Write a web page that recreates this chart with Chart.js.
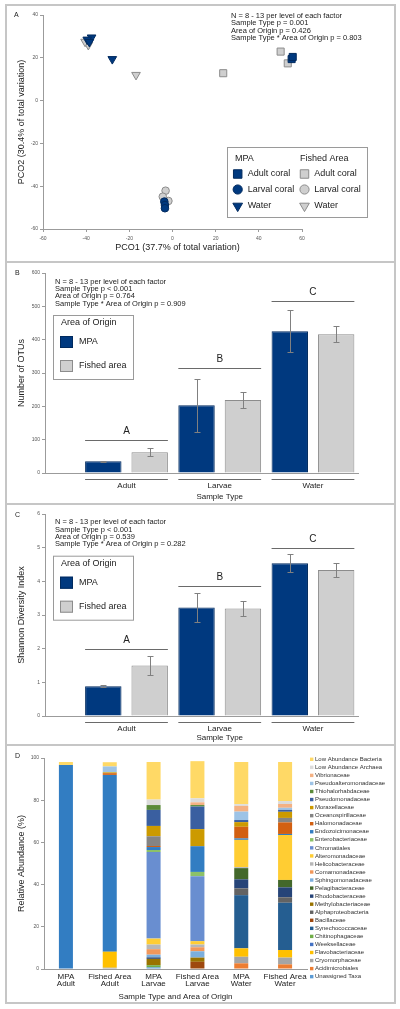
<!DOCTYPE html>
<html>
<head>
<meta charset="utf-8">
<title>Coral microbiome figure</title>
<script src="https://cdn.jsdelivr.net/npm/chart.js@4.4.1/dist/chart.umd.min.js"></script>
<style>
  html, body { margin: 0; padding: 0; background: #fff; }
  body { position: relative; width: 400px; height: 1009px; overflow: hidden; }
  canvas { position: absolute; }
  .frame { position: absolute; left: 5px; width: 391px; border: 2px solid #c6c6c6; box-sizing: border-box; }
</style>
</head>
<body>
<canvas id="pco" width="391" height="258" style="left:5px;top:4px"></canvas>
<canvas id="otus" width="391" height="243" style="left:5px;top:261px"></canvas>
<canvas id="shannon" width="391" height="242" style="left:5px;top:503px"></canvas>
<canvas id="abund" width="391" height="260" style="left:5px;top:744px"></canvas>
<div class="frame" style="top:4px;height:259px"></div>
<div class="frame" style="top:261px;height:244px"></div>
<div class="frame" style="top:503px;height:243px"></div>
<div class="frame" style="top:744px;height:260px"></div>
<script>
const FONT = "'Liberation Sans', Arial, Helvetica, sans-serif";
Chart.defaults.font.family = FONT;
Chart.defaults.color = "#333";
Chart.defaults.animation = false;
Chart.defaults.responsive = false;
Chart.defaults.plugins.legend.display = false;
Chart.defaults.plugins.tooltip.enabled = false;

const NAVY = "#00397f";
const NAVY_EDGE = "#002a5e";
const GREY = "#cfcfcf";
const GREY_EDGE = "#8c8c8c";
const AXIS = "#9b9b9b";

// ---- A: PCO ordination
const mpaAdult = [{ x: 55.2, y: 19.4 }, { x: 55.7, y: 20.4 }];
const mpaLarval = [{ x: -3.8, y: -47.2 }, { x: -3.5, y: -48.8 }, { x: -3.5, y: -50.3 }];
const mpaWater = [{ x: -37.5, y: 29.5 }, { x: -39.5, y: 28.5 }, { x: -38.5, y: 27.4 }, { x: -27.9, y: 19.4 }];
const fishedAdult = [{ x: 50.1, y: 22.9 }, { x: 53.4, y: 17.4 }, { x: 23.5, y: 12.8 }];
const fishedLarval = [{ x: -3.2, y: -42.1 }, { x: -4.5, y: -44.9 }, { x: -1.9, y: -46.9 }];
const fishedWater = [{ x: -39, y: 26 }, { x: -40.5, y: 27.5 }, { x: -16.9, y: 12 }];
const pcoStats = ["N = 8 - 13 per level of each factor", "Sample Type p = 0.001", "Area of Origin p = 0.426", "Sample Type * Area of Origin p = 0.803"];

// ---- B / C: OTUs and Shannon
const sampleTypes = ["Adult", "Larvae", "Water"];
const otuMPA = [35, 203, 425];
const otuMPAErr = [2, 80, 63];
const otuFished = [62, 219, 416];
const otuFishedErr = [12, 25, 24];
const otuLetters = ["A", "B", "C"];
const otuLetterLevel = [100, 316, 517];
const otuStats = ["N = 8 - 13 per level of each factor", "Sample Type p < 0.001", "Area of Origin p = 0.764", "Sample Type * Area of Origin p = 0.909"];

const shMPA = [0.88, 3.22, 4.54];
const shMPAErr = [0.03, 0.42, 0.26];
const shFished = [1.5, 3.19, 4.34];
const shFishedErr = [0.29, 0.23, 0.21];
const shLetters = ["A", "B", "C"];
const shLetterLevel = [2.0, 3.87, 5.0];
const shStats = ["N = 8 - 13 per level of each factor", "Sample Type p < 0.001", "Area of Origin p = 0.539", "Sample Type * Area of Origin p = 0.282"];

// ---- D: relative abundance, bottom of stack first
const abundGroups = [["MPA", "Adult"], ["Fished Area", "Adult"], ["MPA", "Larvae"], ["Fished Area", "Larvae"], ["MPA", "Water"], ["Fished Area", "Water"]];
const taxa = ["Unassigned Taxa", "Acidimicrobiales", "Cryomorphaceae", "Flavobacteriaceae", "Weeksellaceae", "Chitinophagaceae",
  "Synechococcaceae", "Bacillaceae", "Alphaproteobacteria", "Methylobacteriaceae", "Rhodobacteraceae", "Pelagibacteraceae",
  "Sphingomonadaceae", "Comamonadaceae", "Helicobacteraceae", "Alteromonadaceae", "Chromatiales", "Enterobacteriaceae",
  "Endozoicimonaceae", "Halomonadaceae", "Oceanospirillaceae", "Moraxellaceae", "Pseudomonadaceae", "Thiohalorhabdaceae",
  "Pseudoalteromonadaceae", "Vibrionaceae", "Low Abundance Archaea", "Low Abundance Bacteria"];
const abundance = [
  [0, 0, 0.8, 0, 0, 0],
  [0, 0, 0, 0, 2.7, 2.2],
  [0, 0.6, 0, 0, 3.1, 3.2],
  [0, 7.6, 0, 0, 4.0, 3.6],
  [0, 0, 0, 0, 0, 0],
  [0, 0, 1.0, 0, 0, 0],
  [0, 0, 0, 0, 25.2, 22.4],
  [0, 0, 0, 3.4, 0, 0],
  [0, 0, 0, 0, 3.2, 2.6],
  [0, 0, 3.0, 2.0, 0, 0],
  [0, 0, 0.7, 0, 4.3, 4.7],
  [0, 0, 0, 0, 5.3, 3.5],
  [0, 0, 1.3, 3.0, 0, 0],
  [0, 0, 2.6, 1.9, 0, 0],
  [0, 0, 2.2, 1.3, 0.5, 0],
  [0, 0, 2.8, 1.6, 12.9, 21.3],
  [0, 0, 41.0, 30.8, 0, 0],
  [0, 0, 1.0, 2.0, 0, 0],
  [96.7, 83.8, 1.4, 12.2, 0.7, 0.5],
  [0, 0.8, 0.5, 0, 5.5, 5.5],
  [0, 0, 4.6, 0, 0, 2.1],
  [0, 0.4, 4.9, 8.1, 2.2, 2.9],
  [0, 0, 7.6, 10.7, 1.0, 0.9],
  [0, 0, 2.3, 0.7, 0, 0],
  [0, 2.8, 0, 0, 4.0, 1.0],
  [0, 0, 0, 1.3, 2.7, 1.8],
  [0, 0, 2.6, 1.9, 0.8, 1.4],
  [1.4, 2.0, 17.8, 17.6, 20.0, 18.5]
];
const taxaColors = ["#5B9BD5", "#ED7D31", "#A5A5A5", "#FFC000", "#4472C4", "#70AD47",
  "#255E91", "#9E480E", "#636363", "#997300", "#264478", "#43682B",
  "#7CAFDD", "#F1975A", "#B7B7B7", "#FFCD33", "#698ED0", "#8CC168",
  "#327DC2", "#D26012", "#848484", "#CC9A00", "#3A5FA0", "#5A8A39",
  "#9DC3E6", "#F4B183", "#DBDBDB", "#FFD966"];

// plain text labels placed on the canvas
const notes = {
  id: "notes",
  afterDraw(chart, args, o) {
    if (!o.items) return;
    const ctx = chart.ctx;
    ctx.save();
    o.items.forEach((it) => {
      ctx.font = `${it.size}px ${FONT}`;
      ctx.fillStyle = it.color || "#222";
      ctx.textAlign = it.align || "left";
      ctx.textBaseline = "middle";
      ctx.fillText(it.text, it.x, it.y);
    });
    ctx.restore();
  },
};

function marker(ctx, style, x, y, r, fill, edge) {
  ctx.beginPath();
  if (style === "rect") {
    const h = r * Math.SQRT1_2;
    ctx.rect(x - h, y - h, 2 * h, 2 * h);
  } else if (style === "circle") {
    ctx.arc(x, y, r, 0, Math.PI * 2);
  } else {
    ctx.moveTo(x - r * 0.866, y - r / 2);
    ctx.lineTo(x + r * 0.866, y - r / 2);
    ctx.lineTo(x, y + r);
    ctx.closePath();
  }
  ctx.fillStyle = fill;
  ctx.fill();
  ctx.lineWidth = 1;
  ctx.strokeStyle = edge;
  ctx.stroke();
}

// two-column legend of panel A
const pcoLegend = {
  id: "pcoLegend",
  afterDraw(chart, args, o) {
    if (!o.box) return;
    const ctx = chart.ctx;
    const b = o.box;
    ctx.save();
    ctx.strokeStyle = "#9a9a9a";
    ctx.lineWidth = 1;
    ctx.strokeRect(b.x + 0.5, b.y + 0.5, b.w, b.h);
    ctx.font = `9px ${FONT}`;
    ctx.fillStyle = "#222";
    ctx.textBaseline = "middle";
    o.headers.forEach((h, c) => ctx.fillText(h, o.headerX[c], o.headerY));
    chart.data.datasets.forEach((ds, i) => {
      const c = Math.floor(i / 3), r = i % 3;
      const size = { rect: 6, circle: 4.6, triangle: 5.6 }[ds.pointStyle];
      marker(ctx, ds.pointStyle, o.markX[c], o.rowY[r], size, ds.backgroundColor, ds.borderColor);
      ctx.fillStyle = "#222";
      ctx.fillText(ds.label, o.textX[c], o.rowY[r]);
    });
    ctx.restore();
  },
};

// boxed legend of panels B and C
const boxLegend = {
  id: "boxLegend",
  afterDraw(chart, args, o) {
    if (!o.box) return;
    const ctx = chart.ctx;
    const b = o.box;
    ctx.save();
    ctx.strokeStyle = "#9a9a9a";
    ctx.lineWidth = 1;
    ctx.strokeRect(b.x + 0.5, b.y + 0.5, b.w, b.h);
    ctx.font = `9px ${FONT}`;
    ctx.textBaseline = "middle";
    ctx.fillStyle = "#222";
    ctx.fillText(o.title, b.x + 8, b.y + 8);
    chart.data.datasets.forEach((ds, i) => {
      const top = b.y + 21 + i * 24;
      ctx.fillStyle = ds.backgroundColor;
      ctx.fillRect(b.x + 7, top, 13, 12);
      ctx.strokeStyle = ds.borderColor;
      ctx.strokeRect(b.x + 7.5, top + 0.5, 12, 11);
      ctx.fillStyle = "#222";
      ctx.fillText(ds.label, b.x + 26, top + 6);
    });
    ctx.restore();
  },
};

// error bars, significance letters and group underlines
const barExtras = {
  id: "barExtras",
  afterDatasetsDraw(chart, args, o) {
    if (!o.errors) return;
    const ctx = chart.ctx;
    const y = chart.scales.y;
    const x = chart.scales.x;
    ctx.save();
    ctx.lineWidth = 1;
    ctx.strokeStyle = "#808080";
    chart.data.datasets.forEach((ds, di) => {
      chart.getDatasetMeta(di).data.forEach((bar, i) => {
        const v = ds.data[i].y;
        const e = o.errors[di][i];
        const yt = Math.round(y.getPixelForValue(v + e)) + 0.5;
        const yb = Math.round(y.getPixelForValue(v - e)) + 0.5;
        const cx = Math.round(bar.x) + 0.5;
        ctx.beginPath();
        ctx.moveTo(cx, yt); ctx.lineTo(cx, yb);
        ctx.moveTo(cx - 3, yt); ctx.lineTo(cx + 3, yt);
        ctx.moveTo(cx - 3, yb); ctx.lineTo(cx + 3, yb);
        ctx.stroke();
      });
    });
    const m0 = chart.getDatasetMeta(0).data;
    const m1 = chart.getDatasetMeta(1).data;
    ctx.strokeStyle = "#6a6a6a";
    ctx.fillStyle = "#222";
    ctx.textAlign = "center";
    ctx.textBaseline = "middle";
    o.letters.forEach((letter, i) => {
      const left = m0[i].x - m0[i].width / 2;
      const right = m1[i].x + m1[i].width / 2;
      const ly = Math.round(y.getPixelForValue(o.levels[i])) + 0.5;
      const uy = Math.round(y.bottom) + 6.5;
      ctx.beginPath();
      ctx.moveTo(left, ly); ctx.lineTo(right, ly);
      ctx.moveTo(left, uy); ctx.lineTo(right, uy);
      ctx.stroke();
      ctx.font = `10px ${FONT}`;
      ctx.fillText(letter, (left + right) / 2, ly - 9);
    });
    ctx.font = `8px ${FONT}`;
    ctx.fillText(o.xTitle, x.getPixelForValue(2), o.xTitleY);
    ctx.restore();
  },
};

Chart.register(notes, pcoLegend, boxLegend, barExtras);

function yAxis(min, max, step, title, width, titlePad) {
  return {
    min: min,
    max: max,
    ticks: { stepSize: step, font: { size: 5 }, color: "#555", padding: 2 },
    grid: { drawOnChartArea: false, tickLength: 3, color: AXIS },
    border: { color: AXIS },
    title: { display: true, text: title, font: { size: 9 }, color: "#222", padding: { top: titlePad, bottom: 0 } },
    afterFit: (s) => { s.width = width; },
  };
}

function statLines(lines, x, y0) {
  return lines.map((t, i) => ({ text: t, x: x, y: y0 + i * 7.3, size: 7.5 }));
}

// ---------- A
function pcoSet(label, data, style, r, fill, edge, rot) {
  return { label: label, data: data, pointStyle: style, pointRadius: r, pointRotation: rot || 0,
    backgroundColor: fill, borderColor: edge, pointBorderWidth: 1 };
}

new Chart(document.getElementById("pco"), {
  type: "scatter",
  data: {
    datasets: [
      pcoSet("Adult coral", mpaAdult, "rect", 5, NAVY, NAVY_EDGE),
      pcoSet("Larval coral", mpaLarval, "circle", 3.8, NAVY, NAVY_EDGE),
      pcoSet("Water", mpaWater, "triangle", 5, NAVY, NAVY_EDGE, 180),
      pcoSet("Adult coral", fishedAdult, "rect", 5, GREY, GREY_EDGE),
      pcoSet("Larval coral", fishedLarval, "circle", 3.8, GREY, GREY_EDGE),
      pcoSet("Water", fishedWater, "triangle", 5, GREY, GREY_EDGE, 180),
    ],
  },
  options: {
    layout: { padding: { left: 0, top: 11, right: 94, bottom: 0 } },
    scales: {
      x: {
        type: "linear", min: -60, max: 60,
        ticks: { stepSize: 20, font: { size: 5 }, color: "#555", padding: 4 },
        grid: { drawOnChartArea: false, tickLength: 3, color: AXIS },
        border: { color: AXIS },
        title: { display: false },
        afterFit: (s) => { s.height = 33; },
      },
      y: yAxis(-60, 40, 20, "PCO2 (30.4% of total variation)", 38, 11.6),
    },
    plugins: {
      notes: {
        items: [{ text: "A", x: 9, y: 11, size: 7 },
          { text: "PCO1 (37.7% of total variation)", x: 172.5, y: 244, size: 9, align: "center" }]
          .concat(statLines(pcoStats, 226, 12)),
      },
      pcoLegend: {
        box: { x: 222, y: 143, w: 140, h: 70 },
        headers: ["MPA", "Fished Area"],
        headerX: [230, 295],
        headerY: 154.5,
        rowY: [170, 185.5, 202],
        markX: [232.7, 299.5],
        textX: [242.7, 309.3],
      },
    },
  },
});

// ---------- B and C
function groupedBars(id, mpa, fished, errs, letters, levels, yCfg, stats, legendTop, panel, xTitleY) {
  const barOpts = { categoryPercentage: 0.995, barPercentage: 0.785, borderWidth: 1 };
  return new Chart(document.getElementById(id), {
    type: "bar",
    data: {
      datasets: [
        Object.assign({ label: "MPA", data: mpa.map((v, i) => ({ x: i + 1, y: v })), backgroundColor: NAVY, borderColor: NAVY_EDGE }, barOpts),
        Object.assign({ label: "Fished area", data: fished.map((v, i) => ({ x: i + 1, y: v })), backgroundColor: GREY, borderColor: GREY_EDGE }, barOpts),
      ],
    },
    options: {
      layout: { padding: { left: 0, top: yCfg.top, right: 38, bottom: 0 } },
      scales: {
        x: {
          type: "linear", min: 0.126, max: 3.483, offset: false,
          grid: { display: false, offset: false, drawTicks: false },
          border: { color: AXIS },
          afterBuildTicks: (s) => { s.ticks = sampleTypes.map((_, i) => ({ value: i + 1 })); },
          ticks: { callback: (v) => sampleTypes[v - 1], font: { size: 8 }, color: "#222", padding: 8, maxRotation: 0, autoSkip: false },
          afterFit: (s) => { s.height = yCfg.xh; },
        },
        y: yAxis(yCfg.min, yCfg.max, yCfg.step, yCfg.title, 40, 11.3),
      },
      plugins: {
        notes: { items: [{ text: panel, x: 10, y: 12, size: 7 }].concat(statLines(stats, 50, yCfg.statY)) },
        boxLegend: { box: { x: 48, y: legendTop, w: 80, h: 64 }, title: "Area of Origin" },
        barExtras: { errors: errs, letters: letters, levels: levels, xTitle: "Sample Type", xTitleY: xTitleY },
      },
    },
  });
}

groupedBars("otus", otuMPA, otuFished, [otuMPAErr, otuFishedErr], otuLetters, otuLetterLevel,
  { min: 0, max: 600, step: 100, title: "Number of OTUs", top: 12, xh: 31, statY: 20.7 },
  otuStats, 54, "B", 236);

groupedBars("shannon", shMPA, shFished, [shMPAErr, shFishedErr], shLetters, shLetterLevel,
  { min: 0, max: 6, step: 1, title: "Shannon Diversity Index", top: 11, xh: 29, statY: 19.3 },
  shStats, 52.7, "C", 235);

// ---------- D
const taxaLegend = {
  id: "taxaLegend",
  afterDraw(chart, args, o) {
    if (!o.x) return;
    const ctx = chart.ctx;
    ctx.save();
    ctx.font = `6px ${FONT}`;
    ctx.textBaseline = "middle";
    const sets = chart.data.datasets.slice().reverse();
    sets.forEach((ds, i) => {
      const yy = o.y + i * o.step;
      ctx.fillStyle = ds.backgroundColor;
      ctx.fillRect(o.x, yy - 1.7, 3.4, 3.4);
      ctx.fillStyle = "#333";
      ctx.fillText(ds.label, o.x + 5, yy);
    });
    ctx.restore();
  },
};
Chart.register(taxaLegend);

new Chart(document.getElementById("abund"), {
  type: "bar",
  data: {
    labels: abundGroups,
    datasets: taxa.map((name, i) => ({
      label: name,
      data: abundance[i],
      backgroundColor: taxaColors[i],
      borderWidth: 0,
      categoryPercentage: 0.8,
      barPercentage: 0.4,
    })),
  },
  options: {
    layout: { padding: { left: 0, top: 14, right: 89, bottom: 0 } },
    scales: {
      x: {
        stacked: true,
        grid: { display: false, drawTicks: false },
        border: { color: AXIS },
        ticks: { font: { size: 8, lineHeight: 0.92 }, color: "#222", padding: 4, maxRotation: 0, autoSkip: false },
        title: { display: true, text: "Sample Type and Area of Origin", font: { size: 8 }, color: "#222", padding: { top: 0, bottom: 2.2 } },
        afterFit: (s) => { s.height = 35; },
      },
      y: Object.assign(yAxis(0, 100, 20, "Relative Abundance (%)", 39, 11.6), { stacked: true }),
    },
    plugins: {
      notes: { items: [{ text: "D", x: 10, y: 12, size: 7 }] },
      taxaLegend: { x: 305, y: 15.3, step: 8.05 },
    },
  },
});
</script>
</body>
</html>
